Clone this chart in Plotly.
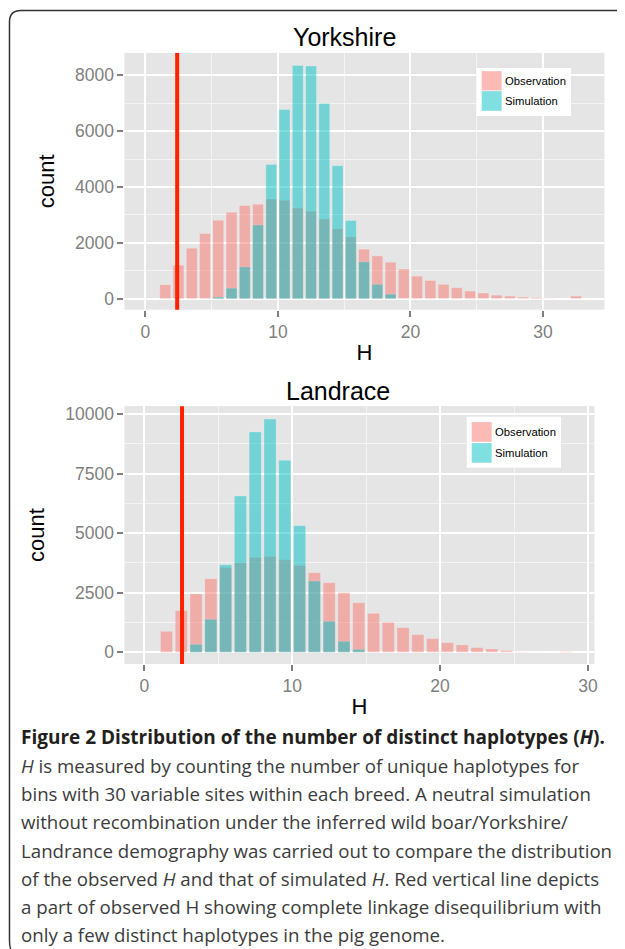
import plotly.graph_objects as go

# page body has an 8px margin: figure is placed at (8, 8)
OX, OY = 8, 8
FW, FH = 617, 941

# ---------------- data ----------------
bins_york = [k + 0.5 for k in range(1, 33)]
obs_york = [500, 1200, 1810, 2335, 2810, 3095, 3335, 3380, 3570, 3525, 3250, 3130,
            2855, 2500, 2215, 1775, 1535, 1310, 1060, 810, 655, 515, 395, 275,
            205, 130, 95, 60, 35, 10, 0, 95]
sim_york = [0, 0, 0, 0, 60, 380, 1140, 2640, 4810, 6770, 8350, 8330,
            6985, 4760, 2800, 1320, 515, 165, 0, 0, 0, 0, 0, 0,
            0, 0, 0, 0, 0, 0, 0, 0]
line_york = 2.4

bins_land = [k + 0.5 for k in range(1, 29)]
obs_land = [880, 1750, 2450, 3090, 3560, 3760, 3980, 4020, 3885, 3645, 3340, 2920,
            2500, 2080, 1635, 1255, 1035, 740, 575, 405, 310, 195, 140, 70,
            15, 5, 0, 25]
sim_land = [0, 0, 335, 1385, 3675, 6555, 9245, 9790, 8060, 5310, 2990, 1300,
            460, 125, 0, 0, 0, 0, 0, 0, 0, 0, 0, 0,
            0, 0, 0, 0]
line_land = 2.55

x_ticks = [0, 10, 20, 30]
y_ticks_york = [0, 2000, 4000, 6000, 8000]
y_ticks_land = [0, 2500, 5000, 7500, 10000]

series_names = ["Observation", "Simulation"]
series_colors = ["#F8766D", "#00BFC4"]

caption_lines = [
    "<b>Figure 2 Distribution of the number of distinct haplotypes (<i>H</i>).</b>",
    "<i>H</i> is measured by counting the number of unique haplotypes for",
    "bins with 30 variable sites within each breed. A neutral simulation",
    "without recombination under the inferred wild boar/Yorkshire/",
    "Landrance demography was carried out to compare the distribution",
    "of the observed <i>H</i> and that of simulated <i>H</i>. Red vertical line depicts",
    "a part of observed H showing complete linkage disequilibrium with",
    "only a few distinct haplotypes in the pig genome.",
]

# ---------------- helpers ----------------
def px(x):
    return (x - OX) / FW

def py(y):
    return 1 - (y - OY) / FH

BG = "#E5E5E5"
TICKC = "#7F7F7F"
FONT = "Liberation Sans, Arial, sans-serif"

fig = go.Figure()

for (bins, obs, sim, xa, ya) in [
    (bins_york, obs_york, sim_york, "x", "y"),
    (bins_land, obs_land, sim_land, "x2", "y2"),
]:
    for name, vals, col in zip(series_names, [obs, sim], series_colors):
        fig.add_trace(go.Bar(
            x=bins, y=vals, name=name, xaxis=xa, yaxis=ya,
            width=0.82, marker=dict(color=col, opacity=0.5,
                                    line=dict(color="rgba(255,255,255,0.35)", width=0.8)),
            showlegend=False,
        ))

# reference lines
fig.add_shape(type="line", xref="x", yref="y domain", x0=line_york, x1=line_york,
              y0=0, y1=1, line=dict(color="#FF2200", width=4))
fig.add_shape(type="line", xref="x2", yref="y2 domain", x0=line_land, x1=line_land,
              y0=0, y1=1, line=dict(color="#FF2200", width=4))

def xaxis(domain, rng, anchor):
    return dict(domain=domain, range=rng, anchor=anchor,
                tickvals=x_ticks, ticktext=[str(v) for v in x_ticks],
                ticks="outside", ticklen=6, tickwidth=2, tickcolor=TICKC,
                tickfont=dict(family=FONT, size=17.5, color=TICKC),
                showgrid=True, gridcolor="white", gridwidth=2, zeroline=False,
                showline=False,
                minor=dict(dtick=5, tick0=0, showgrid=True, gridcolor="#F4F4F4", gridwidth=1),
                title=dict(text="H", font=dict(family=FONT, size=22, color="black"), standoff=3))

def yaxis(domain, rng, anchor, tv, mdt):
    return dict(domain=domain, range=rng, anchor=anchor,
                tickvals=tv, ticktext=[str(v) for v in tv],
                ticks="outside", ticklen=6, tickwidth=2, tickcolor=TICKC,
                tickfont=dict(family=FONT, size=17.5, color=TICKC),
                showgrid=True, gridcolor="white", gridwidth=2, zeroline=False,
                showline=False,
                minor=dict(dtick=mdt, tick0=0, showgrid=True, gridcolor="#F4F4F4", gridwidth=1),
                title=dict(text="count", font=dict(family=FONT, size=22, color="black"), standoff=14))

fig.update_layout(
    width=FW, height=FH,
    margin=dict(l=0, r=0, t=0, b=0),
    paper_bgcolor="white", plot_bgcolor=BG,
    barmode="overlay",
    xaxis=xaxis([px(125), px(607.3)], [-1.58, 34.63], "y"),
    yaxis=yaxis([py(308.3), py(51)], [-390, 8800], "x", y_ticks_york, 1000),
    xaxis2=xaxis([px(125), px(597.3)], [-1.346, 30.44], "y2"),
    yaxis2=yaxis([py(663.3), py(405)], [-487, 10330], "x2", y_ticks_land, 1250),
    showlegend=False,
)

annotations = []
shapes = []

# panel titles
annotations.append(dict(text="Yorkshire", x=px(346), y=py(35), xref="paper", yref="paper",
                        showarrow=False, font=dict(family=FONT, size=25, color="black"),
                        xanchor="center", yanchor="middle"))
annotations.append(dict(text="Landrace", x=px(340), y=py(390), xref="paper", yref="paper",
                        showarrow=False, font=dict(family=FONT, size=25, color="black"),
                        xanchor="center", yanchor="middle"))

# manual legends (ggplot-style boxes)
def legend(x0, y0, x1, y1, kx0, kx1, ky, tx):
    shapes.append(dict(type="rect", xref="paper", yref="paper", x0=px(x0), x1=px(x1),
                       y0=py(y1), y1=py(y0), fillcolor="white", line=dict(width=0), layer="above"))
    for (a, b), name, col in zip(ky, series_names, series_colors):
        shapes.append(dict(type="rect", xref="paper", yref="paper", x0=px(kx0), x1=px(kx1),
                           y0=py(b), y1=py(a), fillcolor=col, opacity=0.5,
                           line=dict(width=0), layer="above"))
        annotations.append(dict(text=name, x=px(tx), y=py((a + b) / 2), xref="paper", yref="paper",
                                showarrow=False, xanchor="left", yanchor="middle",
                                font=dict(family=FONT, size=11.3, color="black")))

legend(479, 66, 573.7, 114.3, 484, 504, [(69.3, 88.6), (89.3, 109)], 505.5)
legend(469, 415.7, 563.7, 466.7, 474, 494, [(421, 440.7), (442, 461.7)], 495.5)

# caption
cap_y = [737, 765.5, 793.5, 821.5, 850, 878, 906.5, 934]
for i, (t, yy) in enumerate(zip(caption_lines, cap_y)):
    annotations.append(dict(text=t, x=px(19), y=py(yy), xref="paper", yref="paper",
                            showarrow=False, xanchor="left", yanchor="middle",
                            font=dict(family="Open Sans, sans-serif",
                                      size=19 if i == 0 else 18.7,
                                      color="#231F20" if i == 0 else "#3C3C3C")))

# outer rounded border
path = (f"M {px(13)},{py(951)} Q {px(9.5)},{py(951)} {px(9.5)},{py(940)} "
        f"L {px(9.5)},{py(20)} Q {px(9.5)},{py(8.5)} {px(21)},{py(8.5)} L {px(626)},{py(8.5)}")
shapes.append(dict(type="path", xref="paper", yref="paper", path=path,
                   line=dict(color="#333333", width=1.5)))

fig.update_layout(annotations=annotations, shapes=list(fig.layout.shapes) + shapes)

fig.write_html("out.html")
